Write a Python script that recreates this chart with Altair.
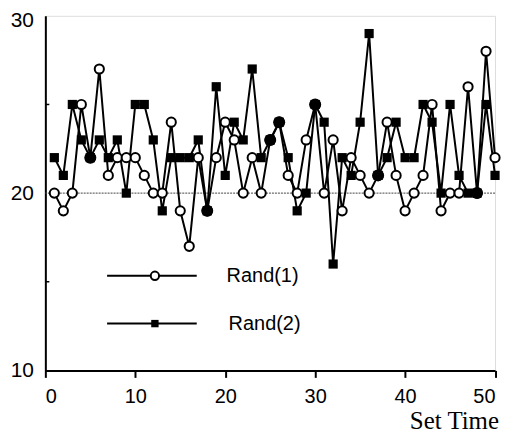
import altair as alt
import pandas as pd

# Data
set_time = list(range(1, 51))
rand1 = [20, 19, 20, 25, 22, 27, 21, 22, 22, 22,
         21, 20, 20, 24, 19, 17, 22, 19, 22, 24,
         23, 20, 22, 20, 23, 24, 21, 20, 23, 25,
         20, 23, 19, 22, 21, 20, 21, 24, 21, 19,
         20, 21, 25, 19, 20, 20, 26, 20, 28, 22]
rand2 = [22, 21, 25, 23, 22, 23, 22, 23, 20, 25,
         25, 23, 19, 22, 22, 22, 23, 19, 26, 21,
         24, 23, 27, 22, 23, 24, 22, 19, 20, 25,
         24, 16, 22, 21, 24, 29, 21, 22, 24, 22,
         22, 25, 24, 20, 25, 21, 20, 20, 25, 21]
x_ticks = [0, 10, 20, 30, 40, 50]
y_ticks = [10, 20, 30]
y_minor = [15, 25]
ref_level = [20]
series_names = ["Rand(1)", "Rand(2)"]

df = pd.DataFrame({"t": set_time, "r1": rand1, "r2": rand2})

W, H = 451.5, 356

xaxis = alt.Axis(values=x_ticks, tickSize=7, tickWidth=2, tickColor="black",
                 labelFont="Liberation Sans", labelFontSize=20, labelColor="black",
                 labelPadding=9, grid=False, domainWidth=2, domainColor="black",
                 title="Set Time", titleFont="Liberation Serif", titleFontSize=25,
                 titleFontWeight="normal", titleColor="black",
                 titleX=455, titleY=58, titleAlign="right", titleBaseline="alphabetic")
yaxis = alt.Axis(values=y_ticks, ticks=False, labelFont="Liberation Sans",
                 labelFontSize=21, labelColor="black", labelPadding=12,
                 labelOffset=alt.condition("datum.value == 30", alt.value(5), alt.value(0)),
                 grid=False, domainWidth=2, domainColor="black", title=None)

X = alt.X("t:Q", scale=alt.Scale(domain=[0, 50], nice=False), axis=xaxis)


def Y(field):
    return alt.Y(f"{field}:Q", scale=alt.Scale(domain=[10, 30], nice=False), axis=yaxis)


base = alt.Chart(df)

ref = alt.Chart(pd.DataFrame({"v": ref_level})).mark_rule(
    color="#444444", strokeWidth=1, strokeDash=[2, 1]
).encode(y=Y("v"))

minor = alt.Chart(pd.DataFrame({"v": y_minor})).mark_rule(
    color="black", strokeWidth=1.5
).encode(y=Y("v"), x=alt.value(0), x2=alt.value(4))

line2 = base.mark_line(color="black", strokeWidth=2).encode(x=X, y=Y("r2"))
line1 = base.mark_line(color="black", strokeWidth=2).encode(x=X, y=Y("r1"))
squares = base.mark_square(color="black", size=85, opacity=1).encode(x=X, y=Y("r2"))
circles = base.mark_point(shape="circle", size=85, fill="white", stroke="black",
                          strokeWidth=2, opacity=1, fillOpacity=1).encode(x=X, y=Y("r1"))
both = base.transform_filter("datum.r1 == datum.r2").mark_circle(
    color="black", size=145, opacity=1).encode(x=X, y=Y("r1"))

# Legend (drawn inside the plot)
leg = pd.DataFrame({"name": series_names})
one = alt.Chart(pd.DataFrame({"a": [0]}))
leg_line1 = one.mark_rule(color="black", strokeWidth=2).encode(
    x=alt.value(62), x2=alt.value(152), y=alt.value(261))
leg_line2 = one.mark_rule(color="black", strokeWidth=2).encode(
    x=alt.value(62), x2=alt.value(152), y=alt.value(309))
leg_c = one.mark_point(shape="circle", size=70, fill="white", stroke="black",
                       strokeWidth=2, opacity=1, fillOpacity=1).encode(
    x=alt.value(110), y=alt.value(261))
leg_s = one.mark_square(color="black", size=55, opacity=1).encode(
    x=alt.value(110), y=alt.value(309))
leg_t1 = alt.Chart(leg.iloc[[0]]).mark_text(
    font="Liberation Sans", fontSize=20, align="left", baseline="middle", color="black"
).encode(text="name:N", x=alt.value(182), y=alt.value(261))
leg_t2 = alt.Chart(leg.iloc[[1]]).mark_text(
    font="Liberation Sans", fontSize=20, align="left", baseline="middle", color="black"
).encode(text="name:N", x=alt.value(184), y=alt.value(309))

chart = alt.layer(
    ref, minor, line2, line1, squares, circles, both,
    leg_line1, leg_line2, leg_c, leg_s, leg_t1, leg_t2
).properties(
    width=W, height=H,
    padding={"left": 37.5, "top": 7, "right": 8, "bottom": 62},
    autosize=alt.AutoSizeParams(type="none"),
).configure_view(
    stroke="black", strokeWidth=2
).configure(background="white")

chart.save("out.html", embed_options={"renderer": "svg", "actions": False})
